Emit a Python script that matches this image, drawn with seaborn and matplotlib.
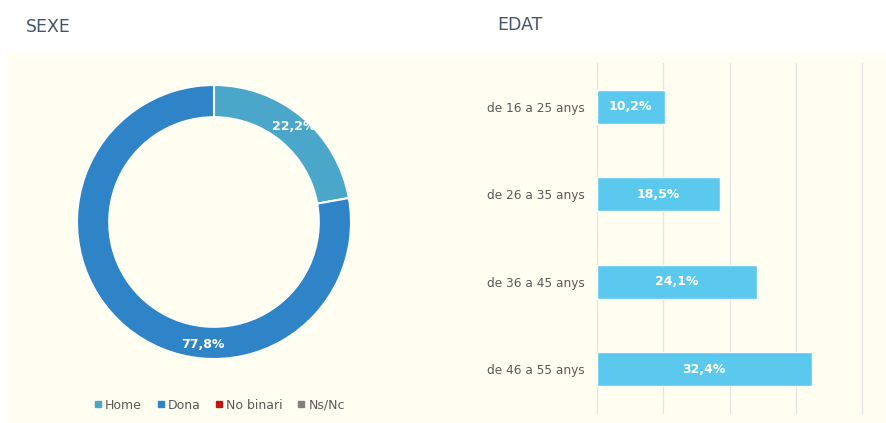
import matplotlib
matplotlib.use('Agg')
import matplotlib.pyplot as plt
import matplotlib.patches as mpatches
from matplotlib.lines import Line2D
import numpy as np
import pandas as pd
import seaborn as sns

# dades
sexe_cat = ['Home', 'Dona', 'No binari', 'Ns/Nc']
sexe_val = [22.2, 77.8, 0.0, 0.0]
sexe_col = ['#4BA7C9', '#2E84C6', '#C0160F', '#7F7F7F']

edat_cat = ['de 16 a 25 anys', 'de 26 a 35 anys', 'de 36 a 45 anys', 'de 46 a 55 anys']
edat_val = [10.2, 18.5, 24.1, 32.4]

crema = '#FFFEF0'
gris_text = '#595959'
titol_col = '#44546A'

sns.set_theme(style='white')
plt.rcParams['font.family'] = ['DejaVu Sans']

W, H = 887, 423
fig = plt.figure(figsize=(W / 100, H / 100), dpi=100)
fig.patch.set_facecolor('white')

def px_axes(x0, y0, x1, y1):
    return fig.add_axes([x0 / W, 1 - y1 / H, (x1 - x0) / W, (y1 - y0) / H])

# fons crema
fig.patches.append(mpatches.Rectangle((8 / W, 0), (886 - 8) / W, 1 - 52 / H,
                                      transform=fig.transFigure, facecolor=crema,
                                      edgecolor='none', zorder=-5))

fig.text(26 / W, 1 - 27 / H, 'SEXE', fontsize=12.5, color=titol_col, va='center', ha='left')
fig.text(497 / W, 1 - 25 / H, 'EDAT', fontsize=12.5, color=titol_col, va='center', ha='left')

# donut
ax1 = px_axes(77, 85, 351, 359)
ax1.set_facecolor('none')
nz = [i for i, v in enumerate(sexe_val) if v > 0]
vals = [sexe_val[i] for i in nz]
cols = [sexe_col[i] for i in nz]
wedges, _ = ax1.pie(vals, colors=cols, startangle=90, counterclock=False, radius=1,
                    wedgeprops=dict(width=0.235, edgecolor='white', linewidth=1.5))
ax1.set_xlim(-1, 1)
ax1.set_ylim(-1, 1)
ax1.set_aspect('equal')
# etiquetes
start = 90
label_angles = []
for v in vals:
    mid = start - v * 3.6 / 2
    label_angles.append(mid)
    start -= v * 3.6
label_angles[1] = -95  # posicio com a l'original
label_r = [0.91, 0.9]
for v, a, r in zip(vals, label_angles, label_r):
    t = np.deg2rad(a)
    ax1.text(r * np.cos(t), r * np.sin(t), f'{v:.1f}%'.replace('.', ','),
             ha='center', va='center', color='white', fontsize=9, fontweight='bold')

handles = [Line2D([], [], marker='s', linestyle='none', markersize=4.5,
                  markerfacecolor=c, markeredgecolor=c, label=n)
           for n, c in zip(sexe_cat, sexe_col)]
fig.legend(handles=handles, loc='center', bbox_to_anchor=(219 / W, 1 - 405 / H), ncol=4,
           frameon=False, fontsize=9, handletextpad=0.15, columnspacing=1.1,
           labelcolor=gris_text, handlelength=0.8)

# barres
df = pd.DataFrame({'edat': edat_cat, 'pct': edat_val})
ax2 = px_axes(597, 63, 862, 413)
ax2.set_facecolor('none')
sns.barplot(data=df, x='pct', y='edat', orient='h', color='#5BC8EE', saturation=1,
            width=0.39, ax=ax2, zorder=3)
ax2.set_xlim(0, 40)
ax2.set_xticks([0, 10, 20, 30, 40])
ax2.xaxis.grid(True, color='#E3E3E3', linewidth=0.9, zorder=0)
for gl in ax2.get_xgridlines():
    gl.set_clip_on(False)
ax2.set_axisbelow(True)
ax2.tick_params(axis='x', labelbottom=False, length=0)
ax2.tick_params(axis='y', length=0, labelsize=8.7, labelcolor=gris_text, pad=9)
ax2.set_xlabel('')
ax2.set_ylabel('')
for s in ax2.spines.values():
    s.set_visible(False)
for i, v in enumerate(edat_val):
    ax2.text(v / 2, i, f'{v:.1f}%'.replace('.', ','), ha='center', va='center',
             color='white', fontsize=9, fontweight='bold', zorder=4)

fig.savefig('out.png', dpi=100, facecolor='white')
